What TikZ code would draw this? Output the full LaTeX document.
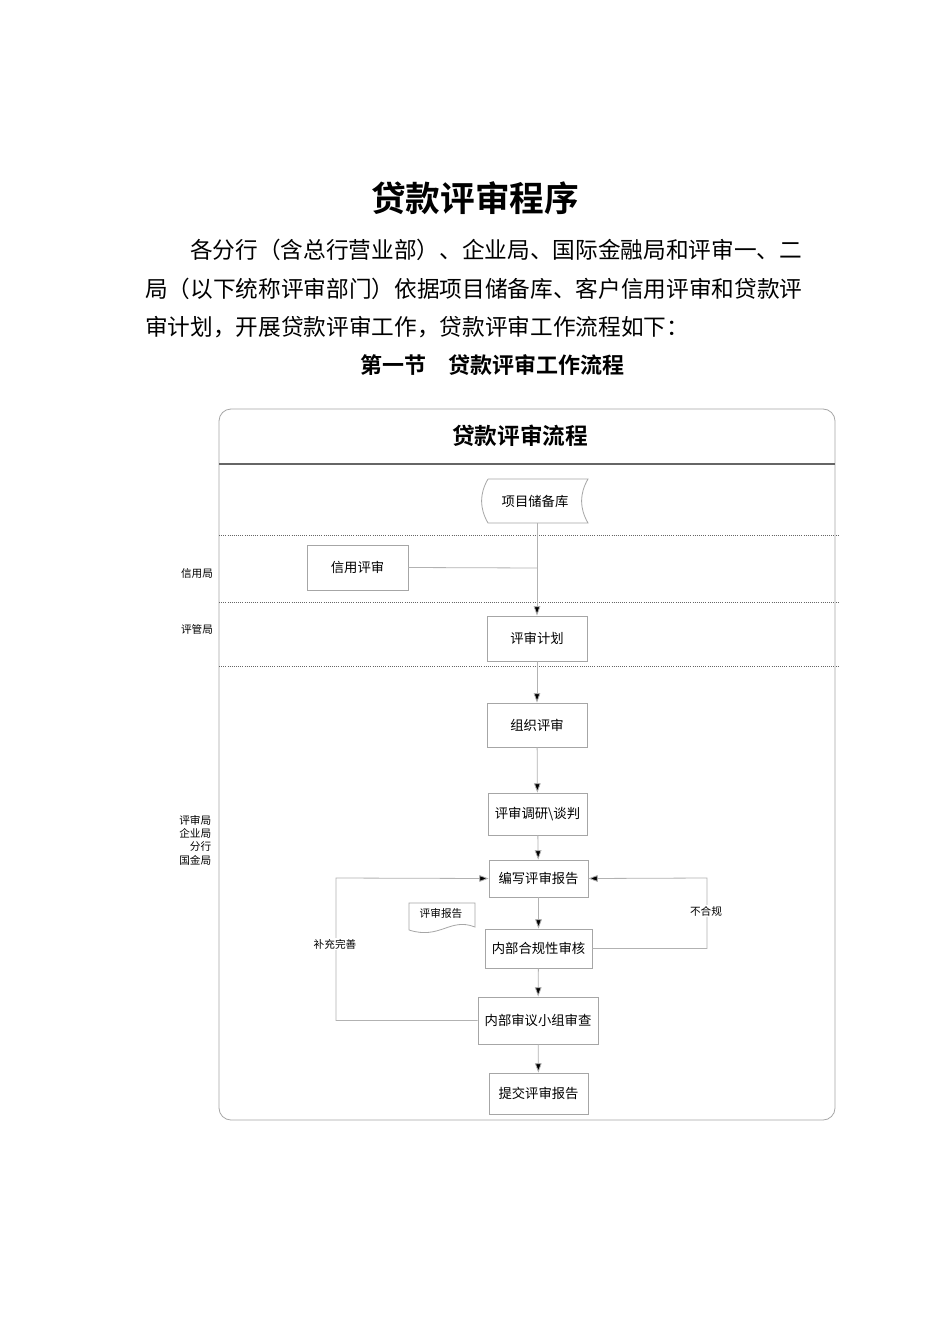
\documentclass[tikz,border=0pt]{standalone}
\usepackage{fontspec}
\newfontfamily\cjk{Noto Sans CJK SC}
\newfontfamily\cjkb{Noto Sans CJK SC Bold}
\usetikzlibrary{arrows.meta}
\begin{document}
\begin{tikzpicture}[x=0.75pt,y=-0.75pt,
  box/.style={draw=gray!70,line width=0.6pt,fill=white,font=\cjk\fontsize{10}{12}\selectfont,inner sep=0pt},
  lane/.style={font=\cjk\fontsize{8}{10}\selectfont},
  conn/.style={draw=gray!60,line width=0.6pt},
  arr/.style={conn,-{Triangle[length=7pt,width=5pt,fill=black]}},
  para/.style={font=\cjk\fontsize{17}{20}\selectfont,anchor=west,inner sep=0pt}]
\useasboundingbox[fill=white] (0,0) rectangle (950,1344);
\node[font=\cjkb\fontsize{26}{30}\selectfont] (title) at (475,198) {贷款评审程序};
\node[para] (p1) at (190,250) {各分行（含总行营业部）、企业局、国际金融局和评审一、二};
\node[para] (p2) at (145,289) {局（以下统称评审部门）依据项目储备库、客户信用评审和贷款评};
\node[para] (p3) at (145,327) {审计划，开展贷款评审工作，贷款评审工作流程如下：};
\node[font=\cjkb\fontsize{16.5}{19}\selectfont] (sec) at (492,365) {第一节\quad 贷款评审工作流程};
\draw[gray!70,line width=0.6pt,rounded corners=9pt] (219,409) rectangle (835,1120);
\draw[gray!80!black,line width=1pt] (219,464) -- (835,464);
\node[font=\cjkb\fontsize{17}{20}\selectfont] (ft) at (520,436) {贷款评审流程};
\foreach \yy in {535,602,666}{\draw[densely dotted,gray!80!black,line width=0.6pt] (219,\yy) -- (838,\yy);}
\node[lane] (l1) at (197,573) {信用局};
\node[lane] (l2) at (197,629) {评管局};
\node[lane,align=right,anchor=east] (l3) at (216,840) {评审局\\企业局\\分行\\国金局};
\draw[gray!70,line width=0.6pt] (488,479) -- (588,479) to[out=240,in=120] (588,523) -- (488,523) to[out=120,in=240] (488,479);
\node[box,draw=none,fill=none] (lib) at (535,501) {项目储备库};
\coordinate (libb) at (537,523);
\node[box,minimum width=101pt*0.75,minimum height=45pt*0.75] (xy) at (357.5,567.5) {信用评审};
\node[box,minimum width=100pt*0.75,minimum height=45pt*0.75] (jh) at (537,638.5) {评审计划};
\node[box,minimum width=100pt*0.75,minimum height=44pt*0.75] (zz) at (537,725) {组织评审};
\node[box,minimum width=99pt*0.75,minimum height=42pt*0.75] (dy) at (537.5,814) {评审调研\textbackslash 谈判};
\node[box,minimum width=99pt*0.75,minimum height=37pt*0.75] (bx) at (538.5,878.5) {编写评审报告};
\node[box,minimum width=107pt*0.75,minimum height=39pt*0.75] (hg) at (538.5,948.5) {内部合规性审核};
\node[box,minimum width=120pt*0.75,minimum height=47pt*0.75] (sy) at (538,1020.5) {内部审议小组审查};
\node[box,minimum width=99pt*0.75,minimum height=41pt*0.75] (tj) at (538.5,1093.5) {提交评审报告};
\draw[gray!70,line width=0.6pt] (409,930) -- (409,903) -- (475,903) -- (475,927) .. controls (450,917) and (440,940) .. (409,930);
\node[font=\cjk\fontsize{8}{10}\selectfont] (doc) at (441,913) {评审报告};
\coordinate (j) at (537,568);
\draw[conn] (xy.east) -- (j);
\draw[arr] (libb) -- (jh.north);
\draw[arr] (jh) -- (zz);
\draw[arr] (zz) -- (dy);
\draw[arr] (dy) -- (bx);
\draw[arr] (bx) -- (hg);
\draw[arr] (hg) -- (sy);
\draw[arr] (sy) -- (tj);
\draw[arr] (sy.west) -| (336,878) -- (bx.west);
\draw[arr] (hg.east) -| (707,878) -- (bx.east);
\node[lane,fill=white,inner sep=1pt] (bc) at (335,944) {补充完善};
\node[lane,fill=white,inner sep=1pt] (bhg) at (706,911) {不合规};
\end{tikzpicture}
\end{document}
